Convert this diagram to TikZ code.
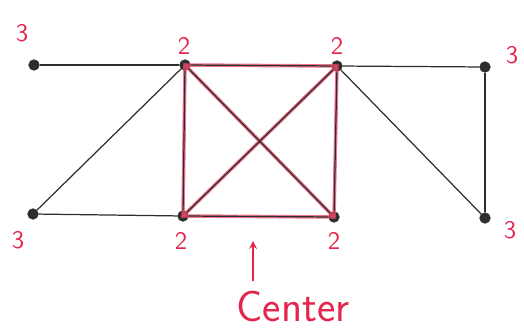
\documentclass[tikz,border=0pt]{standalone}
\usetikzlibrary{arrows,positioning,calc}
\definecolor{pen}{RGB}{228,38,78}
\definecolor{ink}{RGB}{45,45,45}

\begin{document}
\begin{tikzpicture}[
  x=0.02cm, y=-0.02cm,
  vertex/.style={circle, draw=ink, fill=ink, inner sep=0pt, minimum size=0.21cm},
  ecc/.style={text=pen, font=\sffamily\Large},
  edge/.style={ink, line width=0.7pt},
  center/.style={pen!85, line width=2pt, opacity=0.75},
  arrow/.style={->, >=stealth, pen, line width=1pt}
]
  \useasboundingbox (0,0) rectangle (524,328);

  \node[vertex] (l1) at (34,65) {};
  \node[vertex] (a) at (185,65) {};
  \node[vertex] (b) at (337,66) {};
  \node[vertex] (r1) at (485,67) {};
  \node[vertex] (l2) at (33,214) {};
  \node[vertex] (c) at (183,216) {};
  \node[vertex] (d) at (334,217) {};
  \node[vertex] (r2) at (485,218) {};

  \node[ecc] (el1) at (22,33) {3};
  \node[ecc] (ea) at (184,46) {2};
  \node[ecc] (eb) at (337,46) {2};
  \node[ecc] (er1) at (512,55) {3};
  \node[ecc] (el2) at (18,240) {3};
  \node[ecc] (ec) at (181,241) {2};
  \node[ecc] (ed) at (334,241) {2};
  \node[ecc] (er2) at (510,230) {3};

  % the center, marked in red
  \draw[center] (a.center) -- (b.center) -- (d.center) -- (c.center) -- cycle;
  \draw[center] (a.center) -- (d.center);
  \draw[center] (b.center) -- (c.center);

  \draw[edge] (l1) -- (a);
  \draw[edge] (a) -- (b);
  \draw[edge] (b) -- (r1);
  \draw[edge] (r1) -- (r2);
  \draw[edge] (b) -- (r2);
  \draw[edge] (a) -- (l2);
  \draw[edge] (l2) -- (c);
  \draw[edge] (c) -- (d);
  \draw[edge] (a) -- (c);
  \draw[edge] (b) -- (d);
  \draw[edge] (a) -- (d);
  \draw[edge] (b) -- (c);

  \node[ecc, font=\sffamily\Huge] (lbl) at (293,306) {Center};
  \coordinate (tail) at (253,281);
  \coordinate (tip) at (253,241);
  \draw[arrow] (tail) -- (tip);
\end{tikzpicture}
\end{document}
